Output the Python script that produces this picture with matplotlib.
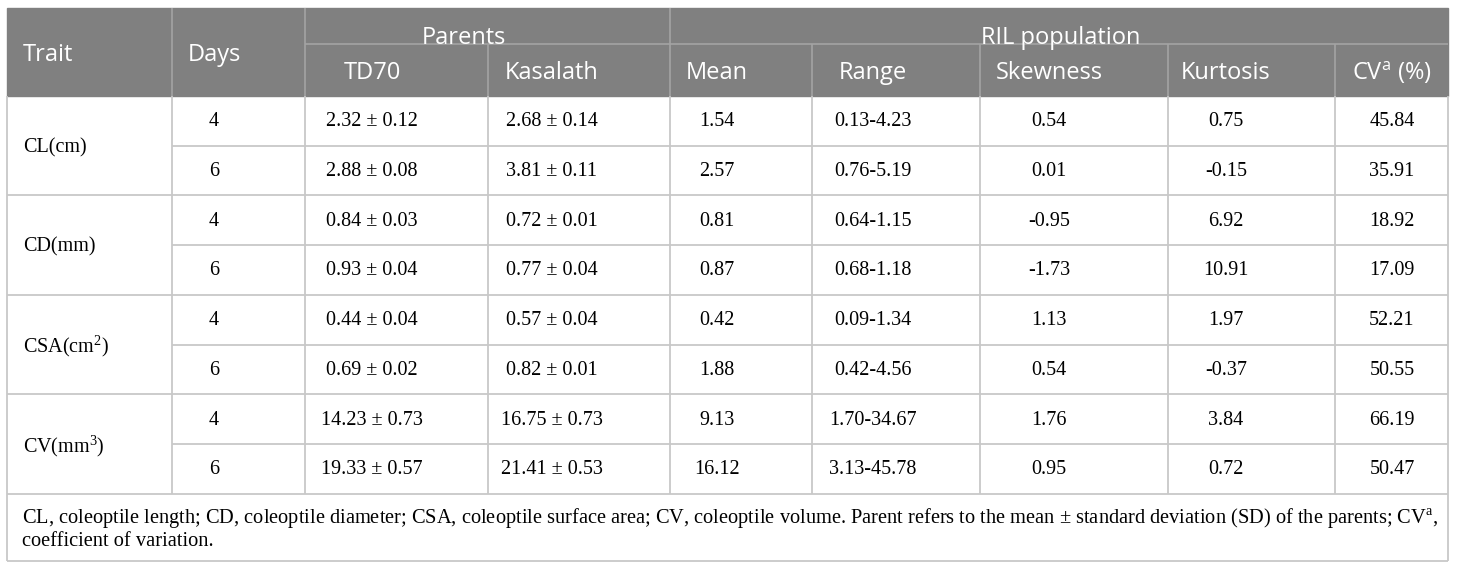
import matplotlib.pyplot as plt
from matplotlib.patches import Rectangle

plt.rcParams['mathtext.fontset'] = 'custom'
plt.rcParams['mathtext.rm'] = 'Liberation Serif'
plt.rcParams['mathtext.sf'] = 'Open Sans'

# table data
traits = ['CL(cm)', 'CD(mm)', 'CSA(cm$^{\\mathrm{2}}$)', 'CV(mm$^{\\mathrm{3}}$)']
days = [4, 6, 4, 6, 4, 6, 4, 6]
td70_mean = [2.32, 2.88, 0.84, 0.93, 0.44, 0.69, 14.23, 19.33]
td70_sd = [0.12, 0.08, 0.03, 0.04, 0.04, 0.02, 0.73, 0.57]
kas_mean = [2.68, 3.81, 0.72, 0.77, 0.57, 0.82, 16.75, 21.41]
kas_sd = [0.14, 0.11, 0.01, 0.04, 0.04, 0.01, 0.73, 0.53]
ril_mean = [1.54, 2.57, 0.81, 0.87, 0.42, 1.88, 9.13, 16.12]
range_lo = [0.13, 0.76, 0.64, 0.68, 0.09, 0.42, 1.70, 3.13]
range_hi = [4.23, 5.19, 1.15, 1.18, 1.34, 4.56, 34.67, 45.78]
skewness = [0.54, 0.01, -0.95, -1.73, 1.13, 0.54, 1.76, 0.95]
kurtosis = [0.75, -0.15, 6.92, 10.91, 1.97, -0.37, 3.84, 0.72]
cv_pct = [45.84, 35.91, 18.92, 17.09, 52.21, 50.55, 66.19, 50.47]

col_labels = ['Days', 'TD70', 'Kasalath', 'Mean', 'Range', 'Skewness',
              'Kurtosis', 'CV$^{\\mathsf{a}}$ (%)']
footnote = ['CL, coleoptile length; CD, coleoptile diameter; CSA, coleoptile surface area; '
            'CV, coleoptile volume. Parent refers to the mean \u00b1 standard deviation (SD) '
            'of the parents; CV$^{\\mathrm{a}}$,',
            'coefficient of variation.']

# layout in pixels
W, H = 1460, 569
left, right, top = 7, 1448, 8
col_x = [7, 172, 305, 488, 670, 812, 980, 1168, 1335, 1448]
text_x = [214, 372, 552, 717, 873, 1049, 1226, 1392]
mid_y, head_bot = 44, 96
row_h = 49.7
table_bot = head_bot + 8 * row_h
bottom = 561

head_col = '#808080'
head_line = '#a4a4a4'
grid_col = '#c8c8c8'
sans = 'Open Sans'
serif = 'Liberation Serif'
hsize, bsize = 17, 14.5

fig = plt.figure(figsize=(W / 100, H / 100), dpi=100)
ax = fig.add_axes([0, 0, 1, 1])
ax.set_xlim(0, W)
ax.set_ylim(H, 0)
ax.axis('off')

# header block
ax.add_patch(Rectangle((left, top), right - left, head_bot - top, color=head_col, zorder=1))
ax.hlines(mid_y, col_x[2], right, color=head_line, lw=1.2, zorder=2)
for i in [1, 2, 4]:
    ax.vlines(col_x[i], top, head_bot, color=head_line, lw=1.2, zorder=2)
for i in [3, 5, 6, 7, 8]:
    ax.vlines(col_x[i], mid_y, head_bot, color=head_line, lw=1.2, zorder=2)

ax.text(23, (top + head_bot) / 2 + 3, 'Trait', color='white', fontsize=hsize, family=sans,
        ha='left', va='center', zorder=3)
ax.text(text_x[0], (top + head_bot) / 2 + 3, col_labels[0], color='white', fontsize=hsize,
        family=sans, ha='center', va='center', zorder=3)
ax.text(464, mid_y, 'Parents', color='white', fontsize=hsize, family=sans,
        ha='center', va='baseline', zorder=3)
ax.text(1061, mid_y, 'RIL population', color='white', fontsize=hsize, family=sans,
        ha='center', va='baseline', zorder=3)
for x, lab in zip(text_x[1:], col_labels[1:]):
    ax.text(x, (mid_y + head_bot) / 2 + 3, lab, color='white', fontsize=hsize, family=sans,
            ha='center', va='center', zorder=3)

# body grid
for r in range(1, 9):
    y = head_bot + r * row_h
    x0 = left if r % 2 == 0 else col_x[1]
    ax.hlines(y, x0, right, color=grid_col, lw=1.3, zorder=2)
for x in col_x[1:-1]:
    ax.vlines(x, head_bot, table_bot, color=grid_col, lw=1.3, zorder=2)
ax.vlines([left, right], head_bot, bottom, color=grid_col, lw=1.3, zorder=2)
ax.hlines(bottom, left, right, color=grid_col, lw=1.3, zorder=2)

# body text
for g, trait in enumerate(traits):
    ax.text(23, head_bot + (2 * g + 1) * row_h + 2, trait, fontsize=bsize, family=serif,
            ha='left', va='center')
for r in range(8):
    y = head_bot + (r + 0.5) * row_h + 1
    cells = [str(days[r]),
             f'{td70_mean[r]:.2f} \u00b1 {td70_sd[r]:.2f}',
             f'{kas_mean[r]:.2f} \u00b1 {kas_sd[r]:.2f}',
             f'{ril_mean[r]:.2f}',
             f'{range_lo[r]:.2f}-{range_hi[r]:.2f}',
             f'{skewness[r]:.2f}',
             f'{kurtosis[r]:.2f}',
             f'{cv_pct[r]:.2f}']
    for x, s in zip(text_x, cells):
        ax.text(x, y, s, fontsize=bsize, family=serif, ha='center', va='center')

# footnote
for i, line in enumerate(footnote):
    ax.text(22, 518 + i * 24, line, fontsize=14.7, family=serif, ha='left', va='center')

fig.savefig('out.png', dpi=100)
